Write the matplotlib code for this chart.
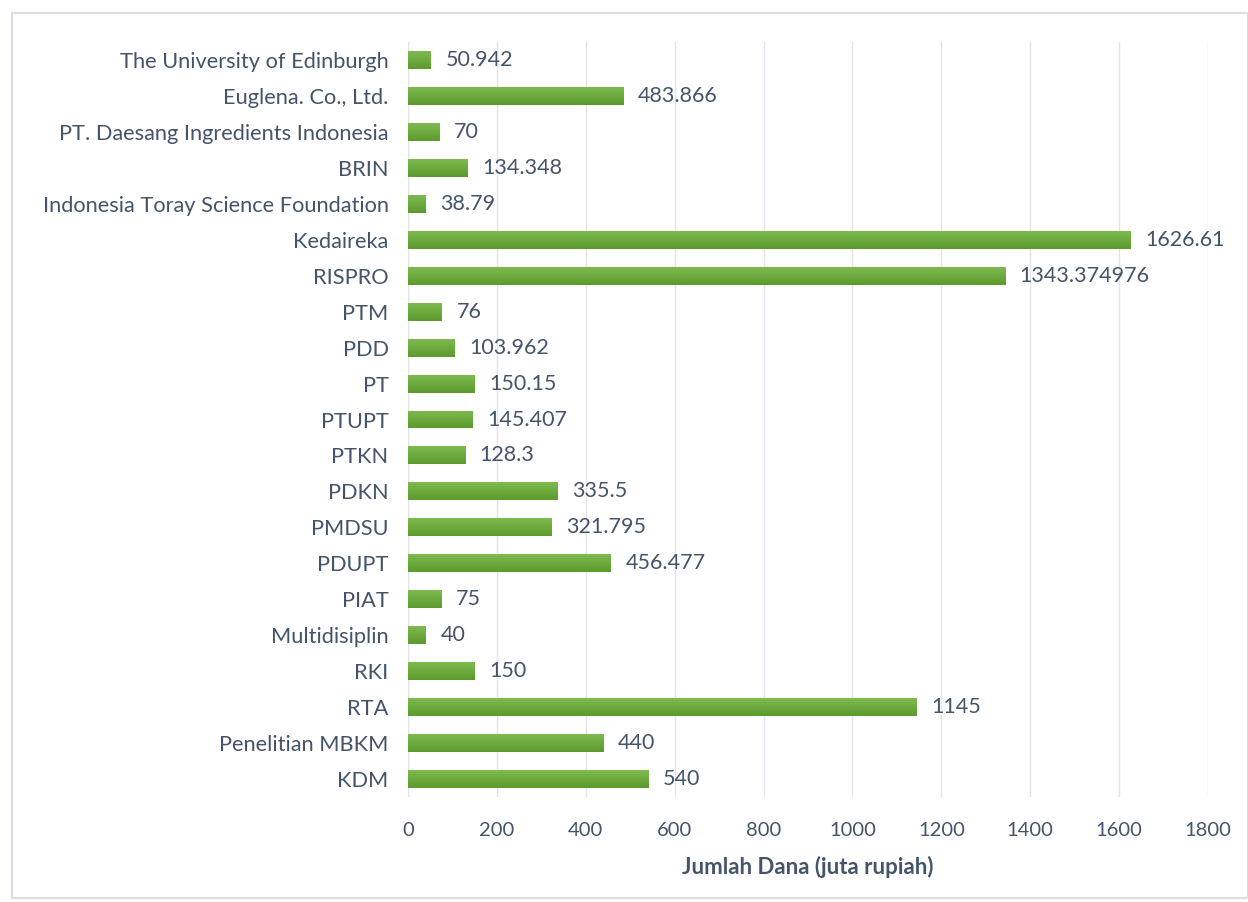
import matplotlib.pyplot as plt
import matplotlib.patches as mpatches
from matplotlib.colors import LinearSegmentedColormap
import numpy as np

# data, bottom to top as in the chart
categories = ['KDM', 'Penelitian MBKM', 'RTA', 'RKI', 'Multidisiplin', 'PIAT',
              'PDUPT', 'PMDSU', 'PDKN', 'PTKN', 'PTUPT', 'PT', 'PDD', 'PTM',
              'RISPRO', 'Kedaireka', 'Indonesia Toray Science Foundation',
              'BRIN', 'PT. Daesang Ingredients Indonesia', 'Euglena. Co., Ltd.',
              'The University of Edinburgh']
values = [540, 440, 1145, 150, 40, 75, 456.477, 321.795, 335.5, 128.3,
          145.407, 150.15, 103.962, 76, 1343.374976, 1626.61, 38.79,
          134.348, 70, 483.866, 50.942]
value_labels = ['540', '440', '1145', '150', '40', '75', '456.477', '321.795',
                '335.5', '128.3', '145.407', '150.15', '103.962', '76',
                '1343.374976', '1626.61', '38.79', '134.348', '70', '483.866',
                '50.942']
xticks = [0, 200, 400, 600, 800, 1000, 1200, 1400, 1600, 1800]

TEXT = '#44546A'
plt.rcParams['font.family'] = ['Lato', 'DejaVu Sans']

fig = plt.figure(figsize=(12.48, 9.02), dpi=100)
ax = fig.add_axes([408 / 1248, 1 - 797 / 902, 800 / 1248, 755 / 902])

# figure border
fig.patches.append(mpatches.Rectangle((12 / 1248, 4 / 902), 1 - 12 / 1248, 1 - 17 / 902,
                                      transform=fig.transFigure, fill=False,
                                      edgecolor='#D9DEE6', linewidth=1.5))

y = np.arange(len(categories))
bars = ax.barh(y, values, height=0.5, color='#6BAA3C', zorder=2)

# vertical gradient inside each bar: lighter on top, darker below
grad = np.linspace(0, 1, 64).reshape(-1, 1)
cmap = LinearSegmentedColormap.from_list('g', ['#5C9A2D', '#7EBA50'])
for b in bars:
    x0, y0, w, h = b.get_x(), b.get_y(), b.get_width(), b.get_height()
    im = ax.imshow(grad, cmap=cmap, aspect='auto', origin='lower',
                   extent=[x0, x0 + w, y0, y0 + h], zorder=3)
    im.set_clip_path(b)

for yi, v, lab in zip(y, values, value_labels):
    ax.text(v + 33, yi, lab, va='center', ha='left', fontsize=15.5, color=TEXT)

ax.set_xlim(0, 1800)
ax.set_ylim(-0.5, len(categories) - 0.5)
ax.set_xticks(xticks)
ax.set_xticklabels([str(t) for t in xticks])
ax.set_yticks(y)
ax.set_yticklabels(categories)
ax.tick_params(axis='y', length=0, labelsize=15.7, labelcolor=TEXT, pad=14)
ax.tick_params(axis='x', length=0, labelsize=14.5, labelcolor=TEXT, pad=18)
ax.grid(axis='x', color='#E1E5EB', linewidth=1, zorder=0)
ax.set_axisbelow(True)
for s in ax.spines.values():
    s.set_visible(False)
ax.axvline(0, color='#E1E5EB', linewidth=1, zorder=1)

ax.set_xlabel('Jumlah Dana (juta rupiah)', fontsize=16, fontweight='bold',
              color=TEXT, labelpad=12)

fig.savefig('out.png', dpi=100)
